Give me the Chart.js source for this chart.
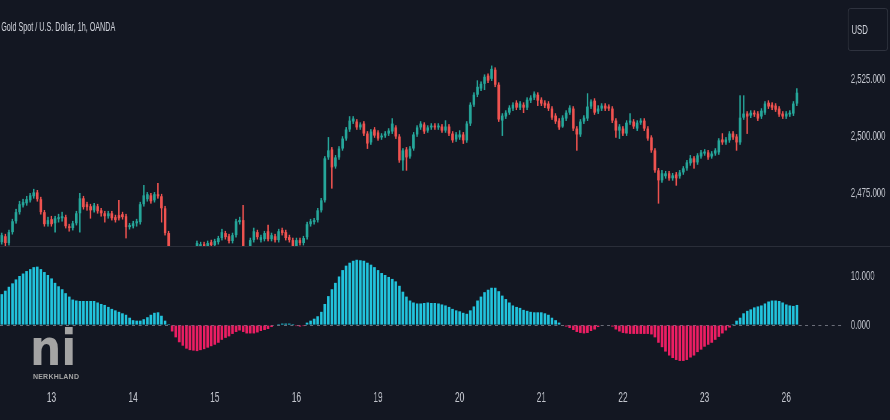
<!DOCTYPE html>
<html>
<head>
<meta charset="utf-8">
<script src="https://cdn.jsdelivr.net/npm/chart.js@4.4.1/dist/chart.umd.min.js"></script>
<style>
  html, body { margin:0; padding:0; background:#131722; width:890px; height:420px; overflow:hidden; }
  /* the reference is squeezed horizontally, so draw wide and scale down */
  #stage { position:absolute; left:0; top:0; width:1484px; height:420px; transform:scaleX(0.6); transform-origin:0 0; }
  #stage canvas { position:absolute; left:0; }
  #top { top:0; }
  #bottom { top:247px; }
  #sep { position:absolute; left:0; top:246px; width:1484px; height:1px; background:#2a2e39; }
  #title { position:absolute; left:2px; top:21px; font:12px "Liberation Sans", Arial, sans-serif; line-height:1; color:#d1d4dc; white-space:nowrap; }
  #usd { position:absolute; left:1413px; top:8px; width:67px; height:43px; box-sizing:border-box;
         border:1px solid #363a45; border-left-width:1.7px; border-right-width:1.7px; border-radius:4px;
         color:#d1d4dc; font:13px "Liberation Sans", Arial, sans-serif; line-height:41px; padding-left:5px; }
  #logo-mark { position:absolute; left:30px; top:323px; font:bold 50px "DejaVu Sans", sans-serif; line-height:1; color:#a4a4a4;
               transform:scaleX(0.88); transform-origin:0 0; }
  #logo-name { position:absolute; left:33px; top:373px; font:bold 7px "Liberation Sans", Arial, sans-serif; line-height:1; color:#a4a4a4; letter-spacing:0.2px; }
</style>
</head>
<body>
<div id="stage">
  <canvas id="top" width="1484" height="246"></canvas>
  <div id="sep"></div>
  <canvas id="bottom" width="1484" height="173"></canvas>
  <div id="title">Gold Spot / U.S. Dollar, 1h, OANDA</div>
  <div id="usd">USD</div>
</div>
<div id="logo-mark">ni</div>
<div id="logo-name">NERKHLAND</div>

<script>
// ====================== DATA ======================
const dayLabels = ['13','14','15','16','19','20','21','22','23','26'];
const firstDayIndex = 14;   // bar where day "13" starts
const barsPerDay = 23;
const slotCount = 238;      // bars + empty space on the right

const priceTicks = [2475, 2500, 2525];
const oscTicks = [0, 10];

const opens = [
  2453.5,2456.1,2453.1,2457.9,2462.7,2466.7,2469.7,2470.6,2471.9,2473.7,
  2475.4,2472.4,2466.7,2461.4,2463.6,2461.8,2463.6,2464.0,2464.5,2460.5,
  2459.7,2461.8,2466.2,2472.8,2470.2,2469.3,2467.5,2469.3,2467.5,2466.2,
  2464.9,2466.2,2464.5,2465.4,2465.8,2464.9,2460.1,2460.5,2461.8,2462.3,
  2470.2,2472.4,2474.1,2471.9,2474.6,2473.7,2468.4,2457.5,2450.4,2447.8,
  2445.6,2447.4,2446.5,2448.2,2449.1,2450.4,2451.3,2452.6,2450.9,2453.5,
  2452.2,2453.5,2455.3,2457.5,2456.1,2454.0,2456.6,2462.3,2463.2,2450.4,
  2449.6,2454.4,2457.9,2454.4,2454.8,2458.3,2454.8,2456.1,2454.4,2458.8,
  2457.9,2455.7,2454.4,2451.8,2454.4,2453.1,2455.7,2461.4,2462.3,2463.2,
  2467.5,2471.9,2490.8,2494.3,2486.8,2490.8,2494.7,2499.1,2503.1,2506.6,
  2506.6,2504.0,2505.7,2501.3,2497.4,2503.1,2501.8,2499.6,2500.4,2501.3,
  2502.2,2504.0,2500.0,2489.5,2494.3,2491.2,2494.7,2500.9,2504.0,2505.3,
  2502.6,2504.0,2504.8,2504.0,2504.4,2502.6,2504.4,2501.3,2498.7,2499.6,
  2500.9,2498.3,2505.7,2514.0,2518.4,2521.1,2523.2,2526.8,2525.4,2529.4,
  2522.8,2507.0,2508.8,2510.5,2512.3,2514.9,2512.7,2514.0,2512.7,2515.8,
  2517.1,2518.4,2516.2,2514.9,2514.5,2512.3,2509.2,2507.0,2504.4,2507.9,
  2510.5,2512.3,2503.5,2500.9,2506.6,2507.9,2513.2,2515.8,2511.0,2512.3,
  2513.6,2513.2,2512.3,2507.0,2502.6,2503.5,2501.3,2506.1,2506.6,2503.5,
  2506.1,2507.0,2503.5,2499.6,2493.9,2485.1,2480.7,2482.5,2483.8,2481.6,
  2483.3,2482.5,2484.2,2486.0,2488.2,2490.4,2488.6,2491.2,2492.5,2493.0,
  2491.2,2492.5,2493.0,2498.7,2497.4,2498.3,2501.3,2500.0,2497.4,2508.3,
  2510.1,2509.2,2510.5,2510.1,2508.8,2510.5,2514.9,2514.0,2513.6,2512.3,
  2510.1,2508.8,2509.7,2510.1,2514.5
];
const highs = [
  2457.5,2457.0,2458.8,2463.6,2468.0,2471.5,2472.4,2473.7,2475.0,2476.8,
  2476.3,2473.3,2467.5,2464.5,2464.9,2464.9,2465.8,2466.7,2465.4,2461.4,
  2462.7,2467.1,2475.0,2473.7,2471.1,2470.2,2470.6,2470.2,2468.4,2467.1,
  2467.1,2467.1,2465.4,2471.9,2466.7,2465.8,2461.8,2462.7,2463.6,2471.1,
  2478.5,2475.4,2475.0,2475.4,2479.4,2474.6,2469.3,2458.3,2451.3,2450.0,
  2449.1,2449.6,2450.0,2450.9,2451.3,2454.0,2453.5,2453.5,2454.0,2454.4,
  2454.8,2456.1,2459.2,2458.3,2457.0,2457.5,2463.6,2464.5,2469.7,2451.3,
  2455.3,2459.7,2458.8,2456.6,2458.3,2461.0,2457.5,2457.0,2459.2,2459.7,
  2458.8,2456.6,2455.3,2455.3,2455.3,2456.1,2462.3,2463.6,2464.0,2468.4,
  2472.8,2491.2,2499.6,2495.2,2491.7,2495.6,2500.0,2504.0,2508.8,2508.8,
  2507.5,2506.1,2506.6,2502.2,2503.1,2504.0,2502.6,2501.3,2502.2,2503.5,
  2507.9,2504.8,2500.9,2494.7,2495.2,2495.6,2501.8,2504.8,2506.6,2506.1,
  2504.8,2505.7,2505.7,2505.7,2505.3,2507.0,2505.3,2502.2,2501.8,2502.6,
  2501.8,2506.6,2514.9,2519.3,2524.6,2524.1,2527.2,2527.6,2531.1,2530.3,
  2523.7,2510.1,2511.4,2513.6,2514.9,2515.8,2515.4,2514.9,2517.1,2518.0,
  2519.7,2519.3,2517.1,2515.8,2515.4,2513.2,2510.1,2507.9,2509.2,2511.4,
  2513.6,2513.2,2504.4,2507.5,2509.2,2518.9,2516.2,2516.7,2513.6,2514.5,
  2514.5,2514.0,2513.2,2507.9,2505.3,2504.4,2507.0,2510.1,2507.5,2507.0,
  2507.9,2507.9,2504.4,2500.4,2494.7,2486.0,2485.1,2484.7,2484.7,2483.8,
  2484.2,2485.1,2486.8,2489.5,2491.7,2491.2,2492.5,2493.9,2494.3,2493.9,
  2493.4,2494.7,2499.1,2501.3,2499.6,2502.2,2502.2,2500.9,2518.0,2518.0,
  2511.0,2511.4,2511.4,2511.0,2512.3,2515.4,2515.8,2514.9,2514.5,2513.2,
  2511.0,2511.0,2511.4,2515.4,2521.1
];
const lows = [
  2452.6,2451.8,2452.2,2457.0,2461.8,2465.8,2468.9,2469.7,2471.1,2472.8,
  2471.5,2465.8,2460.5,2460.5,2460.5,2457.9,2462.3,2462.7,2459.7,2458.3,
  2458.8,2461.0,2457.9,2468.0,2467.5,2464.0,2466.7,2466.2,2464.9,2462.3,
  2464.0,2463.2,2462.3,2463.2,2463.6,2455.3,2459.2,2459.7,2460.5,2461.4,
  2469.3,2471.5,2470.6,2471.1,2472.8,2462.3,2456.6,2449.1,2446.5,2443.9,
  2444.7,2444.7,2445.6,2447.4,2448.2,2449.6,2450.4,2450.4,2450.0,2451.3,
  2451.3,2452.6,2454.4,2454.8,2453.1,2453.1,2455.7,2461.4,2450.0,2447.4,
  2448.2,2453.5,2454.8,2453.5,2454.0,2454.0,2454.0,2453.5,2453.5,2456.6,
  2454.4,2453.5,2450.0,2450.9,2452.2,2452.2,2454.8,2460.5,2461.4,2462.3,
  2466.7,2471.1,2489.9,2477.2,2486.0,2489.9,2493.9,2498.3,2502.2,2505.7,
  2503.1,2503.1,2500.4,2494.7,2496.5,2499.6,2498.3,2498.7,2499.6,2500.4,
  2501.3,2499.1,2488.6,2485.1,2485.1,2490.4,2493.9,2500.0,2503.1,2501.3,
  2501.8,2503.1,2503.1,2503.1,2501.8,2501.8,2500.4,2497.4,2497.8,2498.7,
  2496.9,2497.4,2504.8,2513.2,2517.5,2520.2,2520.6,2523.7,2524.6,2521.9,
  2506.6,2500.4,2507.9,2509.7,2511.4,2511.8,2511.8,2510.5,2511.8,2514.9,
  2516.2,2513.6,2513.6,2512.7,2511.4,2507.5,2505.7,2503.1,2504.0,2507.0,
  2509.7,2502.6,2493.9,2500.0,2505.7,2507.0,2512.3,2509.7,2510.1,2511.4,
  2511.4,2511.4,2506.1,2499.6,2499.1,2500.4,2500.4,2505.3,2503.5,2502.6,
  2505.3,2502.6,2498.3,2493.0,2484.2,2470.6,2479.8,2481.6,2480.7,2480.7,
  2478.5,2481.6,2483.3,2485.1,2487.3,2486.0,2487.7,2490.4,2491.7,2489.9,
  2490.4,2491.7,2492.1,2496.5,2496.5,2497.4,2498.7,2493.9,2496.5,2507.5,
  2501.3,2508.3,2508.8,2507.0,2507.9,2509.7,2512.3,2511.8,2511.0,2508.8,
  2507.9,2507.9,2508.8,2509.2,2513.6
];
const closes = [
  2456.6,2453.1,2457.9,2462.7,2466.7,2470.2,2471.1,2472.4,2474.1,2475.4,
  2472.4,2466.7,2461.4,2463.2,2461.4,2464.0,2464.5,2464.9,2460.5,2459.7,
  2461.8,2466.2,2472.8,2468.9,2468.9,2467.5,2469.7,2467.1,2466.2,2464.9,
  2466.2,2464.0,2463.2,2464.0,2464.5,2460.1,2461.0,2461.8,2462.7,2470.2,
  2474.1,2474.6,2471.5,2474.6,2473.7,2468.4,2457.5,2450.9,2447.8,2445.6,
  2447.4,2446.5,2448.2,2449.1,2450.4,2453.1,2452.6,2451.3,2453.1,2452.2,
  2454.0,2455.3,2457.9,2455.7,2454.0,2456.6,2462.7,2463.2,2451.8,2449.1,
  2454.4,2458.3,2455.7,2455.7,2457.5,2454.8,2456.6,2454.4,2458.3,2457.5,
  2455.3,2454.4,2451.3,2454.4,2453.1,2455.3,2461.4,2462.7,2463.2,2467.5,
  2471.9,2490.4,2493.9,2486.4,2490.8,2494.7,2499.1,2503.1,2507.0,2507.9,
  2504.0,2505.3,2501.3,2496.9,2502.2,2500.4,2499.1,2500.4,2501.3,2502.6,
  2505.7,2500.0,2489.5,2493.9,2490.8,2494.7,2500.9,2504.0,2505.7,2502.2,
  2504.0,2504.8,2504.0,2504.8,2502.6,2504.4,2501.3,2498.3,2500.9,2500.9,
  2498.3,2505.7,2514.0,2518.4,2521.9,2523.2,2526.3,2524.6,2529.8,2522.8,
  2507.5,2509.2,2510.5,2512.7,2514.0,2512.7,2514.5,2512.7,2516.2,2517.1,
  2518.9,2515.8,2514.5,2513.6,2512.3,2508.3,2506.6,2504.0,2508.3,2510.5,
  2512.7,2503.5,2500.9,2506.6,2508.3,2513.2,2515.4,2510.5,2512.3,2513.6,
  2512.3,2512.3,2507.0,2502.6,2504.4,2501.3,2506.1,2507.0,2504.4,2506.1,
  2507.0,2503.5,2499.1,2493.9,2485.1,2480.7,2483.8,2483.8,2481.6,2482.9,
  2481.6,2484.2,2486.0,2488.6,2490.4,2488.6,2491.7,2493.0,2493.4,2490.8,
  2492.5,2493.9,2498.3,2497.4,2498.7,2501.3,2499.6,2497.4,2508.3,2510.1,
  2508.8,2510.5,2509.7,2507.9,2511.4,2514.5,2513.2,2512.7,2511.8,2509.7,
  2508.8,2510.1,2510.5,2514.5,2519.3
];

// oscillator histogram (lower pane)
const osc = [
  6.3,7.0,7.8,8.5,9.3,10.0,10.5,11.0,11.4,11.8,
  11.9,11.4,10.8,10.2,9.5,8.6,7.9,7.3,6.5,5.8,
  5.2,5.0,4.9,4.9,4.9,4.9,4.9,4.6,4.3,4.1,
  3.7,3.3,3.0,2.7,2.4,2.1,1.5,1.0,0.9,0.9,
  1.2,1.6,2.1,2.5,2.6,1.9,0.9,0.2,-1.3,-2.5,
  -3.5,-4.2,-4.8,-5.1,-5.2,-5.3,-5.1,-4.9,-4.6,-4.3,
  -4.0,-3.6,-3.0,-2.6,-2.3,-1.8,-1.4,-1.1,-1.4,-1.7,
  -1.7,-1.7,-1.5,-1.2,-1.0,-0.8,-0.4,-0.1,0.2,0.3,
  0.3,0.3,0.2,-0.2,-0.3,-0.2,0.5,0.9,1.3,1.8,
  2.7,4.3,5.9,7.3,8.6,9.9,11.2,12.1,12.7,13.1,
  13.3,13.2,13.1,12.7,12.3,11.8,11.2,10.6,10.2,9.8,
  9.4,8.9,8.0,6.8,5.8,5.0,4.6,4.4,4.4,4.5,
  4.6,4.5,4.5,4.4,4.2,4.0,3.7,3.3,3.0,2.8,
  2.5,2.3,3.0,3.8,5.0,5.8,6.7,7.2,7.6,7.6,
  6.9,6.0,5.3,4.6,4.0,3.7,3.5,3.1,2.9,2.7,
  2.6,2.6,2.6,2.4,2.1,1.5,1.0,0.5,0.1,-0.3,
  -0.6,-1.0,-1.4,-1.6,-1.7,-1.6,-1.2,-0.9,-0.4,-0.1,
  0.1,0.1,-0.3,-0.9,-1.3,-1.6,-1.7,-1.8,-1.8,-1.8,
  -1.8,-1.8,-1.8,-1.9,-2.5,-3.6,-4.5,-5.4,-6.2,-6.7,
  -7.1,-7.3,-7.3,-7.1,-6.6,-6.2,-5.5,-5.0,-4.4,-4.0,
  -3.6,-3.0,-2.4,-1.7,-1.1,-0.5,0.2,0.9,1.5,2.4,
  2.9,3.2,3.6,3.8,4.0,4.4,4.8,5.0,5.0,4.9,
  4.6,4.2,4.0,3.9,4.1
];

// ====================== STYLE ======================
const UP = '#26a69a', DOWN = '#ef5350';
const CYAN = '#22c3dc', PINK = '#ec1e63';
const TEXT = '#c3c6ce';
const AXIS_W = 76;
Chart.defaults.font.family = '"Liberation Sans", Arial, sans-serif';

const labels = Array.from({length: slotCount}, (_, i) => {
  const d = i - firstDayIndex;
  if (d < 0 || d % barsPerDay !== 0) return '';
  return dayLabels[d / barsPerDay] || '';
});

const candleColors = closes.map((c, i) => c >= opens[i] ? UP : DOWN);
const fixedTicks = list => scale => { scale.ticks = list.map(v => ({value: v})); };
// no label overflow padding: panes must fill their canvases exactly
const noPad = s => { s.paddingTop = s.paddingBottom = s.paddingLeft = s.paddingRight = 0; };
const fixWidth = s => { s.width = AXIS_W; noPad(s); };

// ====================== PRICE PANE ======================
new Chart(document.getElementById('top'), {
  type: 'bar',
  data: {
    labels,
    datasets: [
      { data: lows.map((l, i) => [l, highs[i]]), backgroundColor: candleColors,
        barThickness: 1.8, grouped: false, clip: 0, order: 2 },
      { data: opens.map((o, i) => [o, closes[i]]), backgroundColor: candleColors,
        barPercentage: 0.74, categoryPercentage: 1, minBarLength: 1, grouped: false, clip: 0, order: 1 }
    ]
  },
  options: {
    responsive: false, animation: false,
    layout: { padding: 0 },
    plugins: { legend: { display: false }, tooltip: { enabled: false } },
    scales: {
      x: { display: false },
      y: {
        position: 'right', min: 2451.8, max: 2560.1,
        afterBuildTicks: fixedTicks(priceTicks), afterFit: fixWidth,
        grid: { display: false, drawTicks: false }, border: { display: false },
        ticks: { color: TEXT, font: { size: 13 }, padding: 10,
          callback: v => v.toLocaleString('en-US', {minimumFractionDigits: 3, maximumFractionDigits: 3}) }
      }
    }
  }
});

// ====================== OSCILLATOR PANE ======================
new Chart(document.getElementById('bottom'), {
  type: 'bar',
  data: {
    labels,
    datasets: [{ data: osc, backgroundColor: osc.map(v => v >= 0 ? CYAN : PINK),
      barPercentage: 0.74, categoryPercentage: 1, clip: 0 }]
  },
  options: {
    responsive: false, animation: false,
    layout: { padding: 0 },
    plugins: { legend: { display: false }, tooltip: { enabled: false } },
    scales: {
      x: {
        grid: { display: false, drawTicks: false }, border: { display: false },
        afterFit: s => { s.height = 35; noPad(s); },
        ticks: { color: TEXT, font: { size: 14 }, padding: 5, autoSkip: false, maxRotation: 0, minRotation: 0 }
      },
      y: {
        position: 'right', min: -12.2, max: 15.9,
        afterBuildTicks: fixedTicks(oscTicks), afterFit: fixWidth,
        grid: { color: c => c.tick && c.tick.value === 0 ? '#6a6d78' : 'transparent', drawTicks: false },
        border: { display: false, dash: [5, 6] },
        ticks: { color: TEXT, font: { size: 13 }, padding: 10, callback: v => v.toFixed(3) }
      }
    }
  }
});
</script>
</body>
</html>
